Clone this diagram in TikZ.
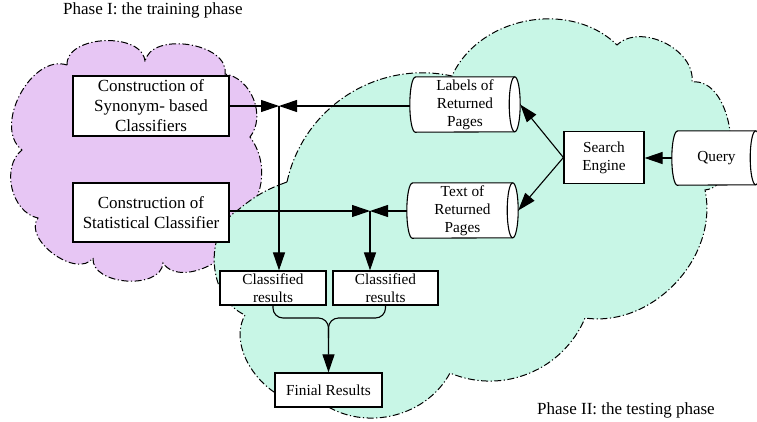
\documentclass[tikz,border=0pt]{standalone}
\usepackage{fontspec}
\setmainfont{Liberation Serif}
\usetikzlibrary{arrows.meta,calc}
\pgfdeclarelayer{clouds}
\pgfdeclarelayer{docs}
\pgfsetlayers{clouds,docs,main}
\definecolor{pinkfill}{RGB}{231,198,244}
\definecolor{tealfill}{RGB}{200,246,230}
\tikzset{
  cloudline/.style={line width=1pt, dash pattern=on 7pt off 2.5pt on 1.2pt off 2.5pt},
  bigbox/.style={draw, line width=1.2pt, fill=white, inner sep=0pt, align=center, font=\fontsize{17}{20}\selectfont},
  smallbox/.style={draw, line width=1.2pt, fill=white, inner sep=0pt, align=center, font=\fontsize{15.3}{18}\selectfont},
  docnode/.style={inner sep=0pt, align=center, font=\fontsize{15.3}{18}\selectfont},
  docline/.style={line width=1.1pt},
  conn/.style={line width=1.1pt},
  endarrow/.style={-{Triangle[length=18pt,width=12pt]}},
  phase/.style={font=\fontsize{17}{20}\selectfont, inner sep=0pt}
}
\newcommand\docshape[2]{%
  \begin{pgfonlayer}{docs}
  \draw[docline, fill=white] ($(#1.north west)+(5.5,0)$) -- ($(#1.north east)+(-5.5,0)$)
     arc[start angle=90,end angle=-90,x radius=5.5,y radius=#2]
     -- ($(#1.south west)+(5.5,0)$)
     arc[start angle=270,end angle=90,x radius=5.5,y radius=#2] -- cycle;
  \draw[docline] ($(#1.north east)+(-5.5,0)$) arc[start angle=90,end angle=270,x radius=5.5,y radius=#2];
  \end{pgfonlayer}}
\begin{document}
\begin{tikzpicture}[x=1pt,y=1pt]
\useasboundingbox (0,0) rectangle (757,-421);
% clouds
\begin{pgfonlayer}{clouds}
\draw[cloudline, fill=pinkfill] (67,-65) to[bend left=90] (145,-62) to[bend left=90] (225,-74)
  to[bend left=60] (250,-137) to[bend left=45] (237,-222) to[bend left=85] (163,-263)
  to[bend left=90] (93,-258) to[bend left=90] (38,-218) to[bend left=65] (22,-150)
  to[bend left=80] (67,-65) -- cycle;
\draw[cloudline, fill=tealfill] (287,-182) to[bend left=45] (452,-76) to[bend left=55] (617,-45)
  to[bend left=70] (692,-82) to[bend left=90] (705,-190) to[bend left=55] (585,-318)
  to[bend left=45] (450,-373) to[bend left=50] (318,-400) to[bend left=70] (245,-315)
  to[bend left=62] (238,-210) to[bend left=10] (287,-182) -- cycle;
\end{pgfonlayer}
% phase labels
\node[phase, anchor=base west] (ph1) at (63,-14) {Phase I: the training phase};
\node[phase, anchor=base west] (ph2) at (537,-414) {Phase II: the testing phase};
% boxes
\node[bigbox, minimum width=156pt, minimum height=60pt] (syn) at (151,-106) {Construction of\\Synonym- based\\Classifiers};
\node[bigbox, minimum width=156pt, minimum height=59pt] (stat) at (151,-212.5) {Construction of\\Statistical Classifier};
\node[smallbox, minimum width=80pt, minimum height=52pt] (se) at (604,-157.5) {Search\\Engine};
\node[smallbox, minimum width=106pt, minimum height=34pt] (c1) at (273,-288) {Classified\\results};
\node[smallbox, minimum width=105pt, minimum height=34pt] (c2) at (385.5,-288) {Classified\\results};
\node[smallbox, minimum width=107pt, minimum height=34pt] (fin) at (328.5,-390) {Finial Results};
% documents
\node[docnode, minimum width=110pt, minimum height=55pt] (lab) at (465,-104.5) {Labels of\\Returned\\Pages};
\docshape{lab}{27.5}
\node[docnode, minimum width=111pt, minimum height=55pt] (txt) at (462.5,-210.5) {Text of\\Returned\\Pages};
\docshape{txt}{27.5}
\node[docnode, minimum width=89pt, minimum height=54pt] (qry) at (716.5,-158) {Query};
\docshape{qry}{27}
% junctions
\coordinate (J1) at (279,-106);
\coordinate (J2) at (370,-211);
\coordinate (M) at (328.5,-318);
% connectors
\draw[conn, endarrow] (syn.east |- J1) -- (J1);
\draw[conn, endarrow] (lab.west |- J1) -- (J1);
\draw[conn, endarrow] (J1) -- (J1 |- c1.north);
\draw[conn, endarrow] (stat.east |- J2) -- (J2);
\draw[conn, endarrow] (txt.west |- J2) -- (J2);
\draw[conn, endarrow] (J2) -- (J2 |- c2.north);
\draw[conn, endarrow] (se.west) -- (lab.east);
\draw[conn, endarrow] (se.west) -- (txt.east);
\draw[conn, endarrow] (qry.west) -- (qry.west -| se.east);
\draw[conn, endarrow, rounded corners=10pt] (c1.south) |- (M) -- (fin.north);
\draw[conn, rounded corners=10pt] (c2.south) |- (M) -- ++(0,-20);
\end{tikzpicture}
\end{document}
